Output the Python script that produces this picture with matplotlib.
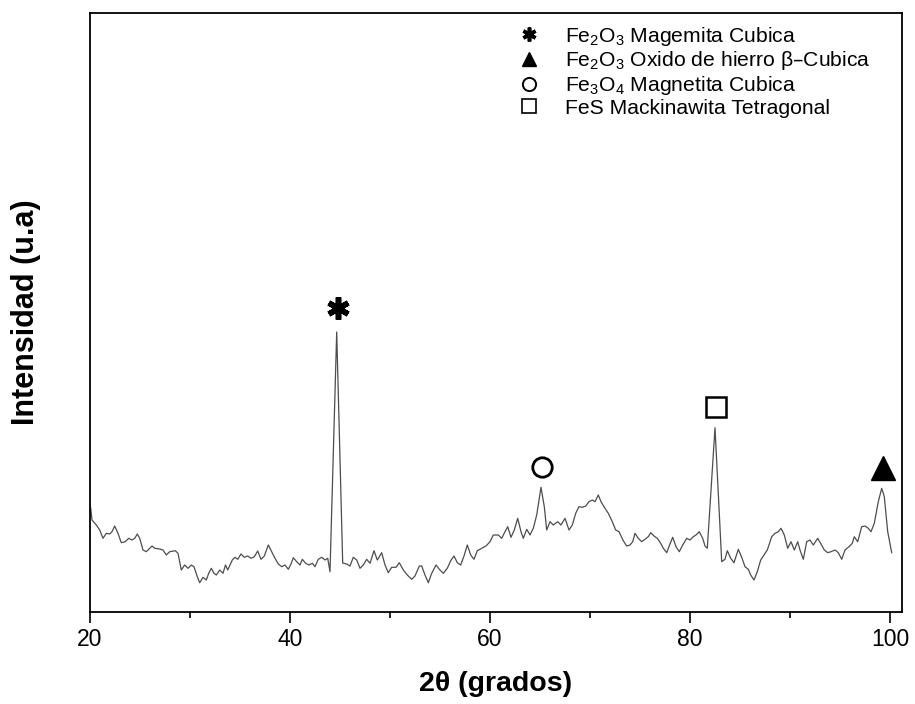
import matplotlib
matplotlib.use("Agg")
import matplotlib.pyplot as plt
from matplotlib.lines import Line2D

plt.rcParams['font.family'] = ['Liberation Sans', 'DejaVu Sans']
plt.rcParams['mathtext.default'] = 'regular'

# XRD pattern (2theta in degrees, intensity in arbitrary units)
two_theta = [
    20.07, 20.2, 20.63, 20.97, 21.3, 21.63, 21.97, 22.2, 22.47, 22.8,
    23.13, 23.53, 23.87, 24.2, 24.47, 24.73, 24.97, 25.3, 25.63, 25.97,
    26.2, 26.47, 26.97, 27.3, 27.63, 27.97, 28.53, 28.8, 29.13, 29.47,
    29.8, 30.13, 30.4, 30.73, 30.97, 31.3, 31.63, 31.87, 32.13, 32.4,
    32.63, 32.97, 33.3, 33.55, 33.77, 34.0, 34.23, 34.5, 34.77, 35.1,
    35.43, 35.77, 36.1, 36.43, 36.77, 37.1, 37.43, 37.83, 38.17, 38.5,
    38.83, 39.17, 39.5, 39.83, 40.1, 40.33, 40.67, 41.0, 41.23, 41.57,
    41.9, 42.23, 42.5, 42.83, 43.17, 43.5, 43.77, 44.0, 44.67, 45.27,
    45.67, 46.0, 46.33, 46.67, 47.0, 47.33, 47.67, 48.0, 48.4, 48.73,
    49.17, 49.5, 49.83, 50.17, 50.6, 50.93, 51.33, 51.73, 52.17, 52.5,
    52.93, 53.17, 53.5, 53.83, 54.17, 54.6, 54.93, 55.33, 55.73, 56.07,
    56.4, 56.73, 57.07, 57.4, 57.73, 58.07, 58.4, 58.73, 59.17, 59.6,
    60.0, 60.33, 60.83, 61.17, 61.5, 61.77, 62.1, 62.43, 62.77, 63.1,
    63.33, 63.67, 64.0, 64.33, 64.67, 65.1, 65.43, 65.67, 66.0, 66.33,
    66.77, 67.1, 67.5, 67.9, 68.23, 68.57, 68.9, 69.23, 69.57, 69.9,
    70.23, 70.5, 70.83, 71.1, 71.5, 71.83, 72.23, 72.57, 72.9, 73.33,
    73.67, 74.0, 74.27, 74.5, 74.83, 75.17, 75.5, 75.83, 76.07, 76.4,
    76.73, 77.07, 77.33, 77.67, 78.0, 78.27, 78.6, 78.93, 79.27, 79.67,
    80.0, 80.33, 80.6, 80.93, 81.27, 81.5, 81.73, 82.5, 83.17, 83.5,
    83.73, 84.07, 84.4, 84.83, 85.17, 85.5, 85.83, 86.07, 86.4, 86.73,
    87.07, 87.4, 87.73, 88.17, 88.5, 88.83, 89.1, 89.43, 89.77, 90.1,
    90.43, 90.77, 91.0, 91.33, 91.67, 92.0, 92.33, 92.77, 93.1, 93.43,
    93.77, 94.1, 94.5, 94.83, 95.17, 95.5, 95.9, 96.23, 96.43, 96.77,
    97.17, 97.5, 97.83, 98.1, 98.43, 98.83, 99.17, 99.43, 99.77, 100.17,
]
intensity = [
    103.7, 92, 87, 82, 73.7, 78.7, 78, 80.3, 86, 78.7,
    69.3, 70.3, 73.7, 72, 73.7, 78, 73.7, 62, 60.3, 63.7,
    66, 63.7, 63, 62, 57, 60.3, 61.3, 58.7, 42, 47,
    43.7, 47, 45.3, 35.3, 29.3, 34.7, 32, 38.7, 43.7, 38.7,
    37, 42, 38.7, 47, 42, 47, 52, 54.7, 52.7, 58,
    54.7, 56, 53.7, 55.3, 61, 52.7, 56, 67, 60.3, 53.7,
    48, 45.3, 47, 42.7, 48, 54.3, 50.3, 47, 52.7, 48.7,
    47, 48.7, 45.3, 52.7, 54.7, 52, 53.7, 40.3, 280, 49,
    48, 46, 54.7, 52, 43.7, 47, 52.7, 48.7, 61.3, 52,
    59.3, 47, 39.3, 44.7, 44.7, 49.3, 42, 37, 32.7, 36,
    46, 46, 37, 29.3, 38.7, 47, 42.7, 38.7, 43.7, 51.3,
    56, 49.3, 47, 56, 67, 57, 52.7, 61.3, 63.7, 66,
    70.3, 77, 77, 73.7, 80.3, 85.3, 74.7, 82, 93.7, 80.3,
    73.7, 82.7, 77, 83.7, 97, 124.7, 105.3, 82, 90.3, 87,
    90.3, 87, 93.7, 82, 87, 98.7, 105.3, 104.7, 106, 110.3,
    112, 110.3, 117, 110.3, 103.7, 98.7, 90.3, 82, 80.3, 71.3,
    66, 67, 70.3, 78.7, 73.7, 70.3, 72.7, 75.3, 79.3, 76,
    73.7, 68.7, 63.7, 59.3, 68, 74.7, 65.3, 60.3, 67, 73.7,
    72, 75.3, 77, 80.3, 73.7, 66, 63.7, 184.3, 50.3, 52.7,
    61.3, 53.7, 49.3, 62.7, 54.7, 45.3, 42.7, 37, 32, 40.3,
    52, 57, 62, 75.3, 78.7, 80.3, 83.7, 77, 63.7, 70.3,
    62, 70.3, 62, 52.7, 70.3, 72, 67, 73.7, 68, 62,
    59.3, 60.3, 62, 59.3, 52.7, 62, 65.3, 68.7, 75.3, 70.3,
    85.3, 86, 83.7, 80.3, 88.7, 110.3, 123.7, 115.3, 80.3, 59.3,
]

# Phase identification symbols placed over the peaks
phase_labels = [
    'Fe$_2$O$_3$ Magemita Cubica',
    'Fe$_2$O$_3$ Oxido de hierro \u03b2\u2013Cubica',
    'Fe$_3$O$_4$ Magnetita Cubica',
    'FeS Mackinawita Tetragonal',
]
phase_x = [44.83, 99.33, 65.23, 82.6]
phase_y = [303.7, 143.7, 144.7, 205.3]

x_ticks = [20, 40, 60, 80, 100]
x_minor = [30, 50, 70, 90]

marker_styles = [
    dict(marker=(6, 2, 0), mfc='k', mec='k'),
    dict(marker='^', mfc='k', mec='k'),
    dict(marker='o', mfc='none', mec='k'),
    dict(marker='s', mfc='none', mec='k'),
]
plot_sizes = [16, 17, 14, 15]
plot_mew = [4.0, 1.0, 2.0, 1.8]
leg_sizes = [10, 9.5, 9.5, 10]
leg_mew = [2.6, 1.0, 1.4, 1.2]

fig = plt.figure(figsize=(9.15, 7.04), dpi=100)
ax = fig.add_axes([90 / 915, (704 - 612) / 704, (902 - 90) / 915, (612 - 12.7) / 704])

ax.plot(two_theta, intensity, color='#4d4d4d', lw=0.9)

handles = []
for i in range(len(phase_labels)):
    st = marker_styles[i]
    ax.plot([phase_x[i]], [phase_y[i]], ls='none', marker=st['marker'],
            mfc=st['mfc'], mec=st['mec'], ms=plot_sizes[i], mew=plot_mew[i])
    handles.append(Line2D([], [], ls='none', marker=st['marker'], mfc=st['mfc'],
                          mec=st['mec'], ms=leg_sizes[i], mew=leg_mew[i]))

ax.legend(handles, phase_labels, loc='upper left', bbox_to_anchor=(0.528, 0.98),
          frameon=False, borderpad=0, borderaxespad=0, handlelength=1.0,
          handletextpad=1.2, labelspacing=0.08, fontsize=15.2)

ax.set_xlim(20, 101.2)
ax.set_ylim(0, 599.3)
ax.set_xticks(x_ticks)
ax.set_xticks(x_minor, minor=True)
ax.set_yticks([])
ax.tick_params(axis='x', which='major', direction='out', length=7.7, width=1.2,
               labelsize=16.5, pad=3.5, top=False)
ax.tick_params(axis='x', which='minor', direction='out', length=4, width=1.2, top=False)
for sp in ax.spines.values():
    sp.set_linewidth(1.3)

ax.set_xlabel('2\u03b8 (grados)', fontsize=20.5, fontweight='bold', labelpad=15)
ax.set_ylabel('Intensidad (u.a)', fontsize=22, fontweight='bold', labelpad=35)

fig.savefig('out.png', dpi=100)
